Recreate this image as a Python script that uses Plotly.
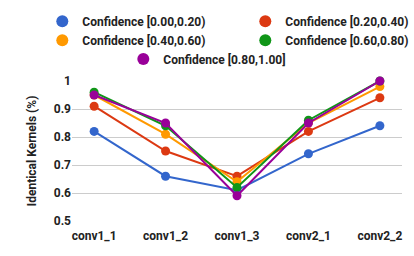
import plotly.graph_objects as go

categories = ["conv1_1", "conv1_2", "conv1_3", "conv2_1", "conv2_2"]
series_names = [
    "Confidence [0.00,0.20)",
    "Confidence [0.20,0.40)",
    "Confidence [0.40,0.60)",
    "Confidence [0.60,0.80)",
    "Confidence [0.80,1.00]",
]
conf_00_20 = [0.82, 0.66, 0.61, 0.74, 0.84]
conf_20_40 = [0.91, 0.75, 0.66, 0.82, 0.94]
conf_40_60 = [0.95, 0.81, 0.64, 0.85, 0.98]
conf_60_80 = [0.96, 0.84, 0.62, 0.86, 1.00]
conf_80_100 = [0.95, 0.85, 0.59, 0.85, 1.00]
series_values = [conf_00_20, conf_20_40, conf_40_60, conf_60_80, conf_80_100]
colors = ["#3366cc", "#dc3912", "#ff9900", "#109618", "#990099"]
y_ticks = [0.5, 0.6, 0.7, 0.8, 0.9, 1.0]
y_tick_labels = ["0.5", "0.6", "0.7", "0.8", "0.9", "1"]

FONT = "Roboto"
FS = 12
TXT = dict(family=FONT, size=FS, color="#222222", weight="bold")
fig = go.Figure()
for name, vals, col in zip(series_names, series_values, colors):
    fig.add_trace(go.Scatter(
        x=categories, y=vals, mode="lines+markers", name=name,
        line=dict(color=col, width=2),
        marker=dict(color=col, size=9),
        showlegend=False, cliponaxis=False,
    ))
# legend entries (circle only)
for i, (name, col) in enumerate(zip(series_names, colors)):
    fig.add_trace(go.Scatter(
        x=[None], y=[None], mode="markers", name=name,
        marker=dict(color=col, size=12),
        showlegend=True,
        legend="legend" if i < 4 else "legend2",
    ))

fig.update_layout(
    width=414, height=256,
    margin=dict(l=72, r=12, t=81, b=35, autoexpand=False),
    plot_bgcolor="white", paper_bgcolor="white",
    font=TXT,
    showlegend=True,
    legend=dict(
        orientation="h", x=-0.09, xanchor="left", y=1.53, yanchor="top",
        entrywidth=158, entrywidthmode="pixels", itemsizing="trace",
        font=TXT, bgcolor="rgba(0,0,0,0)", tracegroupgap=0,
    ),
    legend2=dict(
        orientation="h", x=0.41, xanchor="center", y=1.26, yanchor="top",
        itemsizing="trace", font=TXT, bgcolor="rgba(0,0,0,0)",
    ),
    xaxis=dict(
        type="category", showgrid=False, showline=False, zeroline=False,
        ticks="", tickfont=TXT, ticklabelstandoff=6,
    ),
    yaxis=dict(
        range=[0.5, 1.0], tickvals=y_ticks, ticktext=y_tick_labels,
        showgrid=True, gridcolor="#cccccc", gridwidth=1, zeroline=False,
        showline=False, ticks="", tickfont=TXT,
        title=dict(text="Identical Kernels (%)", standoff=14, font=TXT),
    ),
)
fig.write_html("out.html", config={"displayModeBar": False},
               post_script="document.body.style.margin='0';document.body.style.padding='0';")
